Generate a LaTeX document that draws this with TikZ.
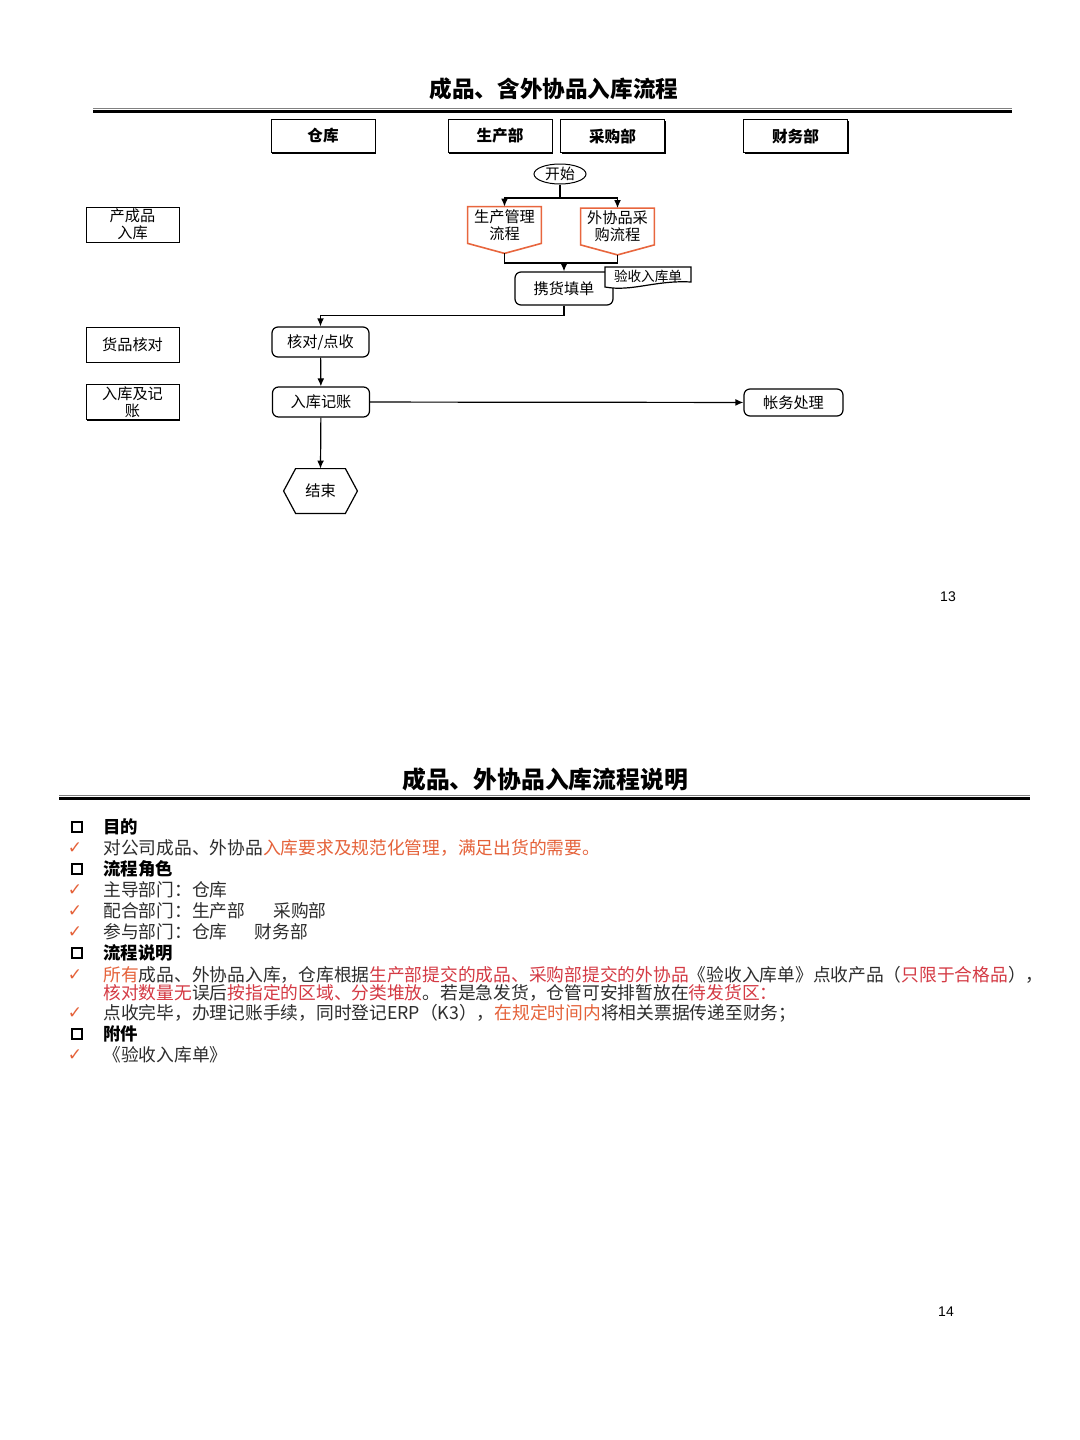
\documentclass[tikz,border=0pt]{standalone}
\usepackage{fontspec}
\setmainfont{Noto Sans CJK SC}
\newfontfamily\numfont{Liberation Sans}
\newfontfamily\symfont{DejaVu Sans}
\usetikzlibrary{arrows.meta,shapes.geometric,shadows}
\definecolor{flowred}{RGB}{232,102,62}
\definecolor{txtred}{RGB}{212,58,68}
\definecolor{txtorange}{RGB}{229,98,58}
\definecolor{txtgray}{RGB}{45,45,45}

\begin{document}
\begin{tikzpicture}[x=0.5pt,y=-0.5pt,
    lane/.style={draw, line width=0.5pt, fill=white, inner sep=0pt,
      minimum width=52pt, minimum height=16.5pt,
      drop shadow={shadow xshift=0.7pt, shadow yshift=-0.7pt, opacity=1, fill=black}},
    lanetxt/.style={lane, font=\bfseries\fontsize{7.8}{9}\selectfont},
    rowbox/.style={lane, minimum width=46.5pt, minimum height=17.5pt, align=center,
      font=\fontsize{7.6}{8.6}\selectfont},
    stepbox/.style={draw, line width=0.6pt, rounded corners=3pt, inner sep=0pt,
      minimum width=48.5pt, minimum height=15pt, font=\fontsize{7.6}{9}\selectfont},
    proc/.style={inner sep=0pt, minimum width=36.5pt, minimum height=18pt, align=center,
      font=\fontsize{7.6}{8.5}\selectfont},
    arr/.style={-{Latex[length=4pt,width=3.4pt]}, line width=0.6pt},
    body/.style={anchor=west, inner sep=0pt, text=txtgray, font=\fontsize{8.87}{10}\selectfont},
    head/.style={body, text=black, font=\bfseries\fontsize{8.7}{10}\selectfont},
    sqbullet/.style={draw, line width=0.6pt, fill=white, inner sep=0pt, minimum size=5pt,
      drop shadow={shadow xshift=0.6pt, shadow yshift=-0.6pt, opacity=1, fill=black}},
    tick/.style={inner sep=0pt, text=txtorange, font=\symfont\fontsize{8.5}{9}\selectfont}]
  \useasboundingbox[fill=white] (0,0) rectangle (1080,1440);

  % page 13: flow chart
  \node[font=\bfseries\fontsize{11.3}{12}\selectfont] (title1) at (554,89) {成品、含外协品入库流程};
  \draw[line width=0.5pt, gray] (93,108.5) -- (1012,108.5);
  \draw[line width=1.5pt] (93,111.5) -- (1012,111.5);

  \node[lanetxt] (cangku) at (323,136) {仓库};
  \node[lanetxt] (shengchan) at (500,136) {生产部};
  \node[lanetxt] (caigou) at (612.5,136) {采购部};
  \node[lanetxt] (caiwu) at (795.5,136) {财务部};

  \node[rowbox] (chanruku) at (132.5,224.5) {产成品\\入库};
  \node[rowbox] (huopin) at (132.5,344.5) {货品核对};
  \node[rowbox] (rukuji) at (132.5,402) {入库及记\\账};

  \node[ellipse, draw, line width=0.5pt, inner sep=0pt, minimum width=26pt, minimum height=10pt,
    font=\fontsize{7.4}{8}\selectfont] (kaishi) at (560,174) {开始};

  \node[proc] (scgl) at (504.5,225) {生产管理\\流程};
  \node[proc] (wxcg) at (617.5,226.5) {外协品采\\购流程};
  \foreach \n in {scgl,wxcg} {
    \draw[flowred, line width=0.8pt] (\n.north west) -- (\n.north east) -- (\n.south east)
      -- ([yshift=-5pt]\n.south) -- (\n.south west) -- cycle;
    \coordinate (\n-tip) at ([yshift=-5pt]\n.south);
  }

  \coordinate (split) at (560,198);
  \draw[line width=0.6pt] (kaishi) -- (split);
  \draw[arr] (split) -| (scgl.north);
  \draw[arr] (split) -| (wxcg.north);

  \node[stepbox, minimum width=49pt, minimum height=16.5pt] (xiehuo) at (564,288.5) {携货填单};
  \coordinate (merge) at (564,263);
  \draw[line width=0.6pt] (scgl-tip) |- (merge);
  \draw[line width=0.6pt] (wxcg-tip) |- (merge);
  \draw[arr] (merge) -- (xiehuo.north);

  % form attached to the delivery note
  \draw[line width=0.6pt, fill=white] (605,267) -- (691,267) -- (691,282)
    .. controls (655,280) and (632,292) .. (605,287) -- cycle;
  \node[inner sep=0pt, font=\fontsize{6.8}{8}\selectfont] (yanshou) at (648,276) {验收入库单};

  \node[stepbox] (hedui) at (320.5,342) {核对/点收};
  \node[stepbox] (ruku) at (321,402) {入库记账};
  \node[stepbox, minimum width=49.5pt, minimum height=13.5pt] (zhangwu) at (793.5,402.5) {帐务处理};
  \node[inner sep=0pt, minimum width=36.5pt, minimum height=22pt,
    font=\fontsize{7.6}{9}\selectfont] (jieshu) at (320.5,491) {结束};
  \draw[line width=0.6pt] ([xshift=6pt]jieshu.north west) -- ([xshift=-6pt]jieshu.north east)
    -- (jieshu.east) -- ([xshift=-6pt]jieshu.south east) -- ([xshift=6pt]jieshu.south west)
    -- (jieshu.west) -- cycle;

  \draw[arr] (xiehuo.south) -- ++(0,10) -| (hedui.north);
  \draw[arr] (hedui) -- (ruku);
  \draw[arr] (ruku) -- (zhangwu);
  \draw[arr] (ruku) -- (jieshu.north);

  \node[font=\numfont\fontsize{7}{8}\selectfont] (page13) at (948,597) {13};

  % page 14: notes
  \node[font=\bfseries\fontsize{11.9}{13}\selectfont] (title2) at (545,779) {成品、外协品入库流程说明};
  \draw[line width=0.5pt, gray] (59,795.5) -- (1030,795.5);
  \draw[line width=1.5pt] (59,798.5) -- (1030,798.5);

  \foreach \y/\n in {827/1,869/2,953/3,1034/4}
    \node[sqbullet] (sq\n) at (77,\y) {};
  \foreach \y/\n in {848/1,890/2,911/3,932/4,975/5,1013/6,1055/7}
    \node[tick] (tk\n) at (75,\y) {✓};

  \node[head] (mudi) at (103,827) {目的};
  \node[body] (line1) at (103,848) {对公司成品、外协品\textcolor{txtorange}{入库要求及规范化管理，满足出货的需要。}};
  \node[head] (juese) at (103,869) {流程角色};
  \node[body] (line2) at (103,890) {主导部门：仓库};
  \node[body] (line3) at (103,911) {配合部门：生产部\hspace{14pt}采购部};
  \node[body] (line4) at (103,932) {参与部门：仓库\hspace{13.5pt}财务部};
  \node[head] (shuoming) at (103,953) {流程说明};
  \node[body] (line5) at (103,975) {\textcolor{txtorange}{所有}成品、外协品入库，仓库根据\textcolor{txtred}{生产部提交的成品、采购部提交的外协品}《验收入库单》点收产品（\textcolor{txtred}{只限于合格品}），};
  \node[body] (line6) at (103,993) {\textcolor{txtred}{核对数量无}误后\textcolor{txtred}{按指定的区域、分类堆放}。若是急发货，仓管可安排暂放在\textcolor{txtred}{待发货区：}};
  \node[body] (line7) at (103,1013) {点收完毕，办理记账手续，同时登记ERP（K3），\textcolor{txtorange}{在规定时间内}将相关票据传递至财务；};
  \node[head] (fujian) at (103,1034) {附件};
  \node[body] (line8) at (103,1055) {《验收入库单》};

  \node[font=\numfont\fontsize{7}{8}\selectfont] (page14) at (946,1312) {14};
\end{tikzpicture}
\end{document}
